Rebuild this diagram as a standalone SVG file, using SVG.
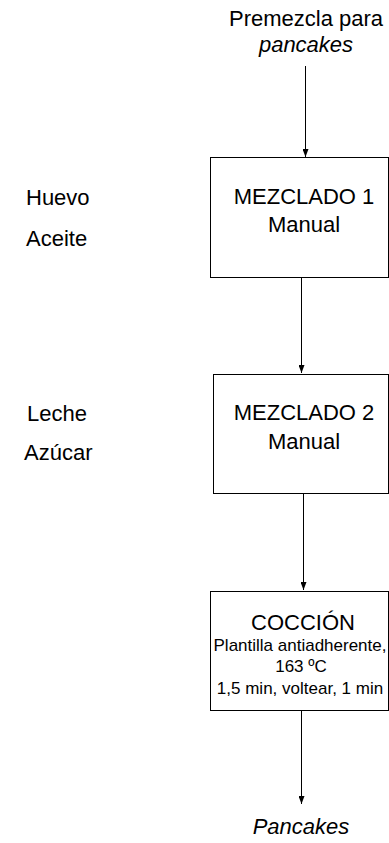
<svg xmlns="http://www.w3.org/2000/svg" width="389" height="843" viewBox="0 0 389 843">
<style>
text{font-family:"Liberation Sans",Arial,sans-serif;fill:#000}
.big{font-size:22px}
.sm{font-size:17px}
.c{text-anchor:middle}
.it{font-style:italic}
.box{fill:#fff;stroke:#000;stroke-width:1}
.edge{stroke:#000;stroke-width:1;fill:none;marker-end:url(#ah)}
</style>
<defs>
<marker id="ah" viewBox="0 0 8 6" refX="8" refY="3" markerWidth="8" markerHeight="6" markerUnits="userSpaceOnUse" orient="auto">
<path d="M0,0L8,3L0,6z" fill="#000"/>
</marker>
</defs>
<rect width="389" height="843" fill="#fff"/>
<g id="connectors">
<path class="edge" d="M305.5,66V157"/>
<path class="edge" d="M301.5,277V373"/>
<path class="edge" d="M303.5,493V590"/>
<path class="edge" d="M301.5,710V804"/>
</g>
<g id="input">
<text class="big c" x="306" y="26">Premezcla para</text>
<text class="big c it" x="306" y="52">pancakes</text>
</g>
<g id="mezclado1">
<rect class="box" x="210.5" y="157.5" width="178" height="120"/>
<text class="big c" x="304" y="204">MEZCLADO 1</text>
<text class="big c" x="304" y="232">Manual</text>
</g>
<g id="ing1">
<text class="big" x="26" y="205">Huevo</text>
<text class="big" x="26" y="246">Aceite</text>
</g>
<g id="mezclado2">
<rect class="box" x="213.5" y="374.5" width="175" height="119"/>
<text class="big c" x="304" y="420">MEZCLADO 2</text>
<text class="big c" x="304" y="449">Manual</text>
</g>
<g id="ing2">
<text class="big" x="27" y="421">Leche</text>
<text class="big" x="24" y="460">Azúcar</text>
</g>
<g id="coccion">
<rect class="box" x="210.5" y="591.5" width="178" height="119"/>
<text class="big c" x="303" y="630">COCCIÓN</text>
<text class="sm c" x="300" y="651">Plantilla antiadherente,</text>
<text class="sm c" x="301" y="672">163 ºC</text>
<text class="sm c" x="300" y="694">1,5 min, voltear, 1 min</text>
</g>
<g id="output">
<text class="big c it" x="301" y="834">Pancakes</text>
</g>
</svg>
